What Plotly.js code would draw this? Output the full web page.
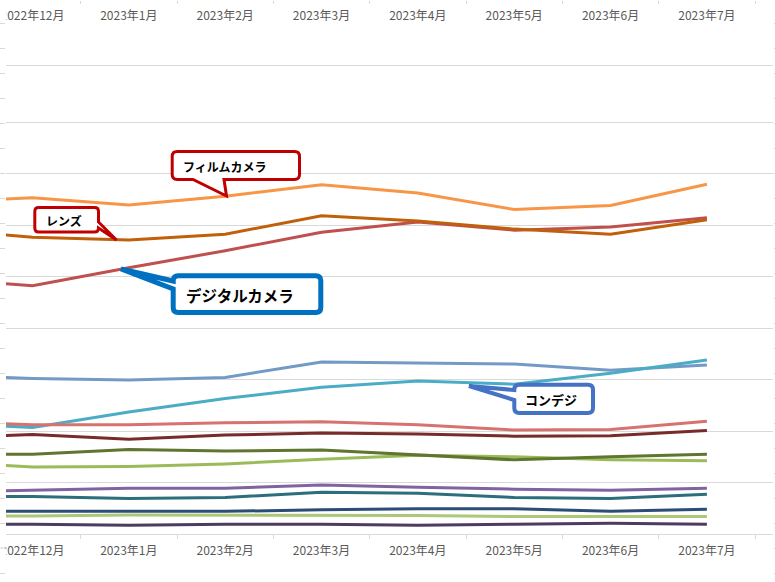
<!DOCTYPE html>
<html>
<head>
<meta charset="utf-8">
<script src="https://cdn.plot.ly/plotly-3.0.1.min.js"></script>
<style>
  html, body { margin: 0; padding: 0; background: #ffffff; }
  #chart { width: 775px; height: 582px; }
</style>
</head>
<body>
<div id="chart"></div>
<script>
// ---- data ----
const months = ['2022年11月', '2022年12月', '2023年1月', '2023年2月', '2023年3月',
                '2023年4月', '2023年5月', '2023年6月', '2023年7月'];

const filmCamera   = [64.4, 65.3, 63.9, 65.6, 67.8, 66.2, 63.0, 63.8, 67.9];
const lens         = [59.2, 57.6, 57.1, 58.2, 61.8, 60.8, 59.2, 58.2, 61.0];
const digitalCam   = [49.6, 48.2, 51.7, 55.0, 58.6, 60.6, 59.0, 59.6, 61.4];
const seriesBlue   = [30.9, 30.2, 29.9, 30.4, 33.4, 33.2, 33.0, 31.8, 32.8];
const compactDigi  = [21.6, 20.7, 23.7, 26.3, 28.5, 29.7, 29.1, 31.2, 33.8];
const seriesSalmon = [21.9, 21.2, 21.2, 21.6, 21.8, 21.2, 20.2, 20.3, 21.9];
const seriesMaroon = [18.6, 19.3, 18.4, 19.2, 19.6, 19.4, 19.0, 19.1, 20.1];
const seriesOlive  = [15.5, 15.5, 16.4, 16.1, 16.3, 15.3, 14.4, 15.0, 15.5];
const seriesLime   = [14.1, 13.0, 13.1, 13.6, 14.5, 15.3, 15.0, 14.4, 14.2];
const seriesPurple = [8.1, 8.5, 8.9, 8.9, 9.5, 9.1, 8.7, 8.5, 8.9];
const seriesTeal   = [7.3, 7.3, 6.9, 7.1, 8.1, 7.9, 7.1, 6.9, 7.7];
const seriesNavy   = [4.4, 4.4, 4.4, 4.4, 4.7, 4.9, 4.9, 4.4, 4.8];
const seriesPale   = [3.5, 3.5, 3.7, 3.7, 3.7, 3.6, 3.4, 3.4, 3.4];
const seriesPlum   = [1.9, 1.9, 1.7, 1.9, 1.9, 1.7, 1.9, 2.1, 1.9];

const gridValues = [0, 10, 20, 30, 40, 50, 60, 70, 80, 90.9];

// ---- styling ----
const seriesList = [
  {name: '系列14', y: seriesPlum,   color: '#4d3b62'},
  {name: '系列13', y: seriesPale,   color: '#aac877'},
  {name: '系列12', y: seriesNavy,   color: '#2c4d75'},
  {name: '系列11', y: seriesTeal,   color: '#2c6e7c'},
  {name: '系列10', y: seriesPurple, color: '#8064a2'},
  {name: '系列9',  y: seriesLime,   color: '#9bbb59'},
  {name: '系列8',  y: seriesOlive,  color: '#5f7530'},
  {name: '系列7',  y: seriesMaroon, color: '#772c2a'},
  {name: '系列6',  y: seriesBlue,   color: '#7399c6'},
  {name: 'コンデジ', y: compactDigi, color: '#4bacc6'},
  {name: '系列5',  y: seriesSalmon, color: '#d6736e'},
  {name: 'デジタルカメラ', y: digitalCam, color: '#c0504d'},
  {name: 'レンズ', y: lens,          color: '#c0600b'},
  {name: 'フィルムカメラ', y: filmCamera, color: '#f79646'}
];

const traces = seriesList.map(s => ({
  type: 'scatter', mode: 'lines', name: s.name,
  x: months, y: s.y,
  line: {color: s.color, width: 3},
  hoverinfo: 'skip'
}));
// carrier traces so the overlay axes get their categories / ticks
traces.push({type: 'scatter', mode: 'lines', x: months, y: months.map(() => null),
             xaxis: 'x2', yaxis: 'y', showlegend: false, hoverinfo: 'skip'});
traces.push({type: 'scatter', mode: 'lines', x: [months[1]], y: [null],
             xaxis: 'x', yaxis: 'y2', showlegend: false, hoverinfo: 'skip'});
traces.push({type: 'scatter', mode: 'lines', x: [months[1]], y: [null],
             xaxis: 'x', yaxis: 'y3', showlegend: false, hoverinfo: 'skip'});

// ---- geometry helpers for callouts (pixel -> paper) ----
const ML = 6, MR = 2, FW = 775, FH = 582;
const PW = FW - ML - MR;
function P(x, y) { return ((x - ML) / PW).toFixed(5) + ',' + ((FH - y) / FH).toFixed(5); }
function px(x) { return (x - ML) / PW; }
function py(y) { return (FH - y) / FH; }
function calloutPath(x0, y0, x1, y1, r, w) {
  let d = 'M' + P(x0 + r, y0) + ' L' + P(x1 - r, y0) + ' Q' + P(x1, y0) + ' ' + P(x1, y0 + r);
  if (w.side === 'right') d += ' L' + P(x1, w.a) + ' L' + P(w.tx, w.ty) + ' L' + P(x1, w.b);
  d += ' L' + P(x1, y1 - r) + ' Q' + P(x1, y1) + ' ' + P(x1 - r, y1);
  if (w.side === 'bottom') d += ' L' + P(w.b, y1) + ' L' + P(w.tx, w.ty) + ' L' + P(w.a, y1);
  d += ' L' + P(x0 + r, y1) + ' Q' + P(x0, y1) + ' ' + P(x0, y1 - r);
  if (w.side === 'left') d += ' L' + P(x0, w.b) + ' L' + P(w.tx, w.ty) + ' L' + P(x0, w.a);
  d += ' L' + P(x0, y0 + r) + ' Q' + P(x0, y0) + ' ' + P(x0 + r, y0) + ' Z';
  return d;
}

const callouts = [
  {text: 'フィルムカメラ', box: [172.2, 151.5, 299.5, 179.5], r: 5, color: '#c00000', width: 3,
   wedge: {side: 'bottom', a: 193, b: 224, tx: 226.5, ty: 196}, tx: 181, ty: 166, size: 12},
  {text: 'レンズ', box: [34.8, 207.5, 98.5, 232], r: 4, color: '#c00000', width: 3,
   wedge: {side: 'right', a: 222, b: 228, tx: 116.5, ty: 240}, tx: 44, ty: 220.5, size: 12},
  {text: 'デジタルカメラ', box: [173.2, 275.8, 320.8, 312.5], r: 5, color: '#0070c0', width: 5,
   wedge: {side: 'left', a: 281, b: 289, tx: 121, ty: 269}, tx: 184, ty: 295, size: 15.5},
  {text: 'コンデジ', box: [514.3, 384.7, 593, 413], r: 5, color: '#4472c4', width: 4,
   wedge: {side: 'left', a: 390, b: 400, tx: 469, ty: 386}, tx: 523, ty: 399, size: 13}
];

const shapes = callouts.map(c => ({
  type: 'path', xref: 'paper', yref: 'paper', layer: 'above',
  path: calloutPath(c.box[0], c.box[1], c.box[2], c.box[3], c.r, c.wedge),
  fillcolor: '#ffffff', line: {color: c.color, width: c.width}
}));
// the reference picture is cropped: hide the first digit of the leftmost labels
[[8, 23], [542, 547.5], [548.5, 562]].forEach(([ya, yb]) => {
  shapes.push({type: 'rect', xref: 'paper', yref: 'paper', layer: 'above',
    x0: px(-2), x1: px(6.4), y0: py(yb), y1: py(ya),
    fillcolor: '#ffffff', line: {width: 0}});
});

const annotations = callouts.map(c => ({
  text: c.text, xref: 'paper', yref: 'paper', x: px(c.tx), y: py(c.ty),
  xanchor: 'left', yanchor: 'middle', showarrow: false,
  font: {family: 'Noto Sans CJK JP', size: c.size, color: '#000000', weight: 700}
}));

const tickFont = {family: 'Noto Sans CJK JP', size: 12, color: '#595959'};
const xRange = [0.725, 8.686];

const layout = {
  width: FW, height: FH,
  margin: {l: ML, r: MR, t: 0, b: 0, pad: 0},
  paper_bgcolor: '#ffffff', plot_bgcolor: '#ffffff',
  showlegend: false,
  xaxis: {
    type: 'category', range: xRange, anchor: 'free', position: 48 / FH,
    showline: true, linecolor: '#d9d9d9', linewidth: 1,
    ticks: 'outside', ticklen: 4, tickcolor: '#d9d9d9', tickson: 'boundaries',
    ticklabelstandoff: 6,
    showgrid: false, zeroline: false, tickfont: tickFont
  },
  xaxis2: {
    type: 'category', range: xRange, overlaying: 'x', side: 'bottom', anchor: 'free', position: 1,
    showline: false, ticks: 'outside', ticklen: 3, tickcolor: '#d9d9d9', tickson: 'boundaries',
    ticklabelstandoff: 7,
    showgrid: false, zeroline: false, tickfont: tickFont
  },
  yaxis: {
    range: [-9.32, 103.69], tickmode: 'array', tickvals: gridValues,
    showticklabels: false, ticks: '', showgrid: true, gridcolor: '#d9d9d9', gridwidth: 1,
    zeroline: false, showline: false
  },
  yaxis2: {
    overlaying: 'y', side: 'left', range: [0, FH / 25], tick0: 0.36, dtick: 1,
    ticks: 'outside', ticklen: 6, tickcolor: '#d9d9d9', showticklabels: false,
    showgrid: false, zeroline: false, showline: false
  },
  yaxis3: {
    overlaying: 'y', side: 'right', range: [0, FH / 25], tick0: 0.36, dtick: 1,
    ticks: 'outside', ticklen: 3, tickcolor: '#d9d9d9', showticklabels: false,
    showgrid: false, zeroline: false, showline: false
  },
  shapes: shapes,
  annotations: annotations
};

Plotly.newPlot('chart', traces, layout, {staticPlot: true, displayModeBar: false});
</script>
</body>
</html>
